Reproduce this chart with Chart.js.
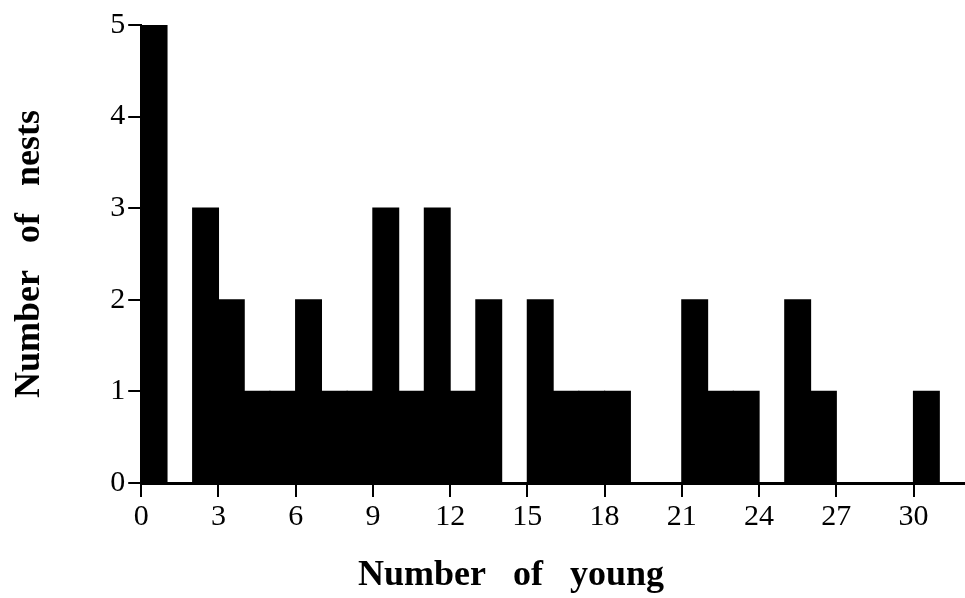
<!DOCTYPE html>
<html>
<head>
<meta charset="utf-8">
<title>Number of nests by number of young</title>
<script src="https://cdn.jsdelivr.net/npm/chart.js@4.4.1/dist/chart.umd.min.js"></script>
<style>
    html, body { margin: 0; padding: 0; background: #fff; }
    #wrap { width: 965px; height: 598px; position: relative; }
</style>
</head>
<body>
<div id="wrap"><canvas id="hist"></canvas></div>
<script>
// histogram bins: left edge of each 1-wide bin (number of young)
const binStarts = [0, 1, 2, 3, 4, 5, 6, 7, 8, 9, 10, 11, 12, 13, 14, 15,
    16, 17, 18, 19, 20, 21, 22, 23, 24, 25, 26, 27, 28, 29, 30];
// number of nests in each bin
const nestCounts = [5, 0, 3, 2, 1, 1, 2, 1, 1, 3, 1, 3, 1, 2, 0, 2,
    1, 1, 1, 0, 0, 2, 1, 1, 0, 2, 1, 0, 0, 0, 1];
const xTicks = [0, 3, 6, 9, 12, 15, 18, 21, 24, 27, 30];
const yTicks = [0, 1, 2, 3, 4, 5];

const xTitle = "Number   of   young";
const yTitle = "Number   of   nests";
const SERIF = "'Liberation Serif', 'Times New Roman', serif";

// x title sits a bit left of the plot centre in the original, so draw it by hand
const xTitlePlugin = {
    id: "xTitle",
    afterDraw(chart) {
        const ctx = chart.ctx;
        ctx.save();
        ctx.fillStyle = "#000";
        ctx.font = "bold 36px " + SERIF;
        ctx.textAlign = "center";
        ctx.textBaseline = "alphabetic";
        ctx.fillText(xTitle, 511, 585);
        ctx.restore();
    },
};

const points = binStarts.map((b, i) => ({ x: b + 0.5, y: nestCounts[i] }));

new Chart(document.getElementById("hist").getContext("2d"), {
    type: "bar",
    data: {
        datasets: [
            {
                data: points,
                backgroundColor: "#000",
                borderWidth: 0,
                barPercentage: 1,
                categoryPercentage: 1,
                inflateAmount: 0.6,
            },
        ],
    },
    options: {
        responsive: true,
        maintainAspectRatio: false,
        animation: false,
        layout: { padding: { left: 8, right: 0, top: 25, bottom: 61 } },
        plugins: {
            legend: { display: false },
            tooltip: { enabled: false },
        },
        scales: {
            x: {
                type: "linear",
                min: 0,
                max: 32,
                offset: false,
                afterBuildTicks(axis) {
                    axis.ticks = xTicks.map((v) => ({ value: v }));
                },
                ticks: {
                    color: "#000",
                    padding: 2,
                    maxRotation: 0,
                    autoSkip: false,
                    includeBounds: false,
                    font: { family: SERIF, size: 30 },
                },
                grid: {
                    offset: false,
                    drawOnChartArea: false,
                    drawTicks: true,
                    tickLength: 14,
                    color: "#000",
                    lineWidth: 2,
                },
                border: { display: true, color: "#000", width: 3 },
            },
            y: {
                min: 0,
                max: 5,
                afterBuildTicks(axis) {
                    axis.ticks = yTicks.map((v) => ({ value: v }));
                },
                ticks: {
                    color: "#000",
                    padding: 3,
                    font: { family: SERIF, size: 30 },
                },
                grid: {
                    drawOnChartArea: false,
                    drawTicks: true,
                    tickLength: 13,
                    color: "#000",
                    lineWidth: 2,
                },
                border: { display: true, color: "#000", width: 2 },
                title: {
                    display: true,
                    text: yTitle,
                    color: "#000",
                    padding: { top: 0, bottom: 56 },
                    font: { family: SERIF, size: 36, weight: "bold" },
                },
            },
        },
    },
    plugins: [xTitlePlugin],
});
</script>
</body>
</html>
